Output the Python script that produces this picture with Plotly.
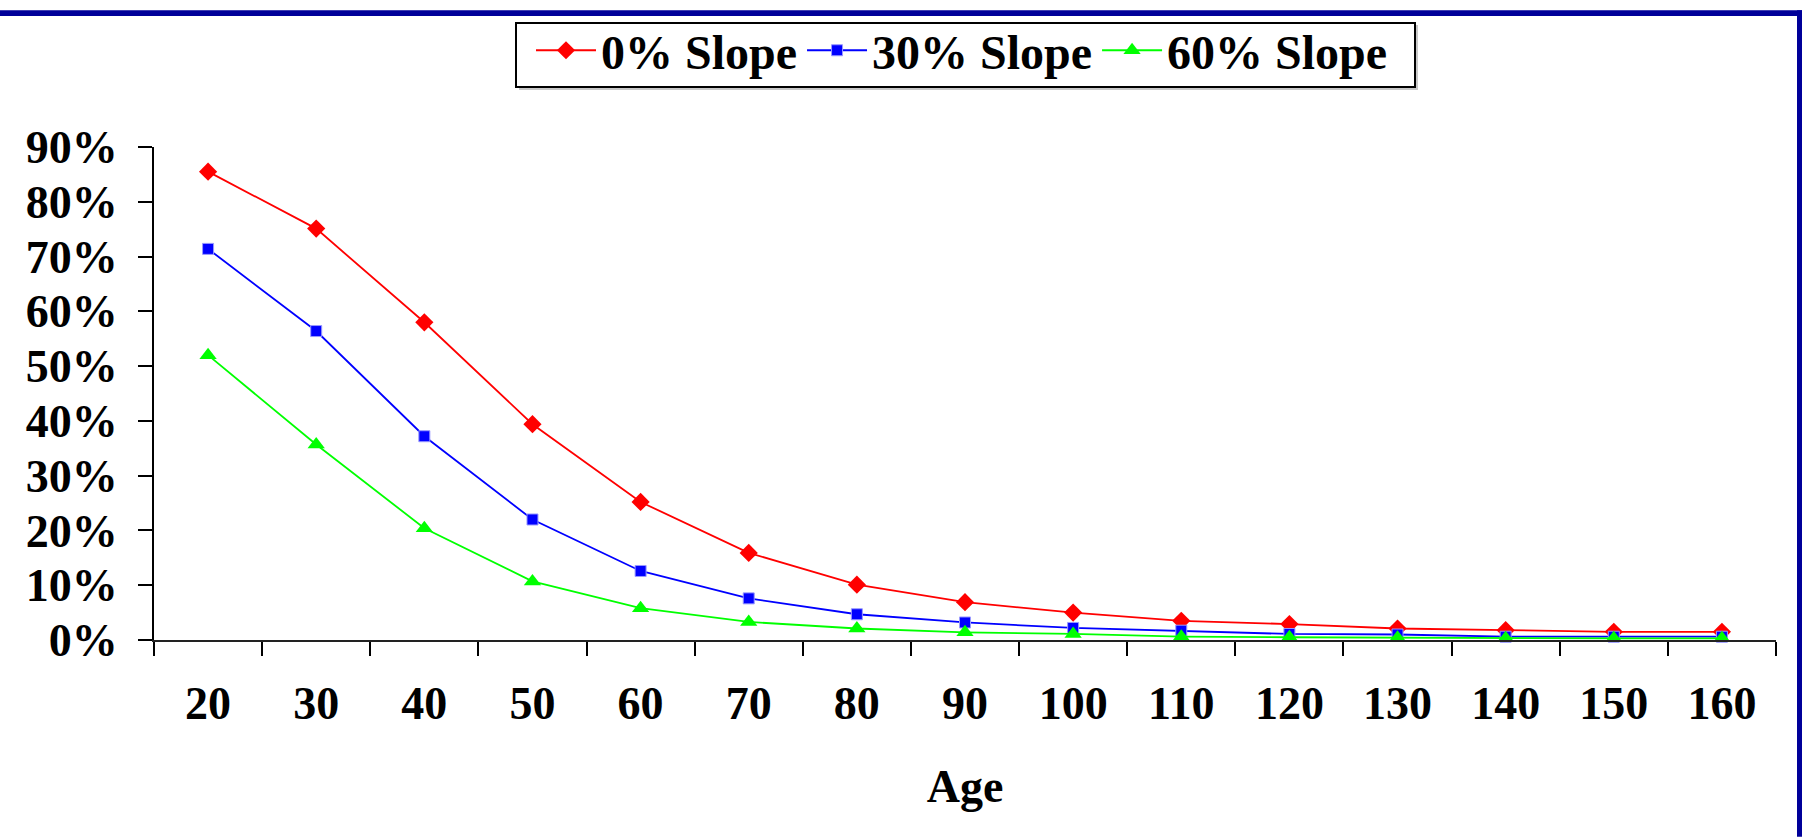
import plotly.graph_objects as go

ages = ["20", "30", "40", "50", "60", "70", "80", "90", "100", "110", "120", "130", "140", "150", "160"]
slope_0 = [0.855, 0.751, 0.580, 0.394, 0.252, 0.159, 0.101, 0.069, 0.050, 0.035, 0.029, 0.021, 0.018, 0.015, 0.015]
slope_30 = [0.714, 0.564, 0.372, 0.220, 0.126, 0.076, 0.047, 0.032, 0.022, 0.017, 0.011, 0.010, 0.006, 0.006, 0.006]
slope_60 = [0.520, 0.357, 0.204, 0.107, 0.058, 0.033, 0.021, 0.014, 0.011, 0.006, 0.005, 0.004, 0.003, 0.003, 0.003]

FONT = "Liberation Serif"
W, H = 1802, 840
L, R, T, B = 154, 26, 139, 200
PW, PH = W - L - R, H - T - B


def px(x):
    return (x - L) / PW


def py(y):
    return (H - B - y) / PH


fig = go.Figure()
fig.add_trace(go.Scatter(x=ages, y=slope_0, name="0% Slope", mode="lines+markers",
                         line=dict(color="#FF0000", width=1.8),
                         marker=dict(symbol="diamond", size=14, color="#FF0000"),
                         cliponaxis=False))
fig.add_trace(go.Scatter(x=ages, y=slope_30, name="30% Slope", mode="lines+markers",
                         line=dict(color="#0000FF", width=1.8),
                         marker=dict(symbol="square", size=11, color="#0000FF",
                                     line=dict(color="#9999FF", width=1)),
                         cliponaxis=False))
fig.add_trace(go.Scatter(x=ages, y=slope_60, name="60% Slope", mode="lines+markers",
                         line=dict(color="#00FF00", width=1.8),
                         marker=dict(symbol="triangle-up", size=15, color="#00FF00"),
                         cliponaxis=False))

fig.update_layout(
    width=W, height=H,
    margin=dict(l=L, r=R, t=T, b=B),
    paper_bgcolor="white", plot_bgcolor="white",
    font=dict(family=FONT, color="black", size=46),
    showlegend=True,
    legend=dict(orientation="h", x=px(962), xanchor="center", y=py(41), yanchor="middle",
                font=dict(family=FONT, size=48, color="black", weight="bold"),
                borderwidth=0, bgcolor="rgba(0,0,0,0)",
                itemwidth=60, tracegroupgap=0),
    xaxis=dict(type="category", tickson="boundaries", showgrid=False,
               showline=True, linecolor="#222222", linewidth=2,
               ticks="outside", ticklen=14, tickwidth=1.5, tickcolor="black",
               tickfont=dict(family=FONT, size=46, color="black", weight="bold"),
               ticklabelstandoff=22,
               title=dict(text="Age", font=dict(family=FONT, size=46, color="black", weight="bold"),
                          standoff=42),
               range=[-0.5, 14.5]),
    yaxis=dict(range=[0, 0.9], dtick=0.1, tickformat=".0%", showgrid=False,
               showline=True, linecolor="black", linewidth=2, zeroline=False,
               ticks="outside", ticklen=14, tickwidth=1.5, tickcolor="black",
               tickfont=dict(family=FONT, size=46, color="black", weight="bold"),
               ticklabelstandoff=11),
    shapes=[
        # legend box shadow and frame
        dict(type="rect", xref="paper", yref="paper",
             x0=px(519), x1=px(1418), y0=py(81), y1=py(15),
             fillcolor="#C8C8C8", line=dict(width=0), layer="below"),
        dict(type="rect", xref="paper", yref="paper",
             x0=px(516), x1=px(1415), y0=py(78), y1=py(13),
             fillcolor="white", line=dict(color="black", width=2), layer="below"),
        # blue frame edges
        dict(type="rect", xref="paper", yref="paper",
             x0=px(0), x1=px(W), y0=py(6), y1=py(0),
             fillcolor="#000099", line=dict(width=0), layer="above"),
        dict(type="rect", xref="paper", yref="paper",
             x0=px(1797), x1=px(W), y0=py(H), y1=py(0),
             fillcolor="#000099", line=dict(width=0), layer="above"),
    ],
)

fig.write_html("out.html",
               config={"displayModeBar": False},
               post_script="document.body.style.margin='0';document.body.style.overflow='hidden';")
